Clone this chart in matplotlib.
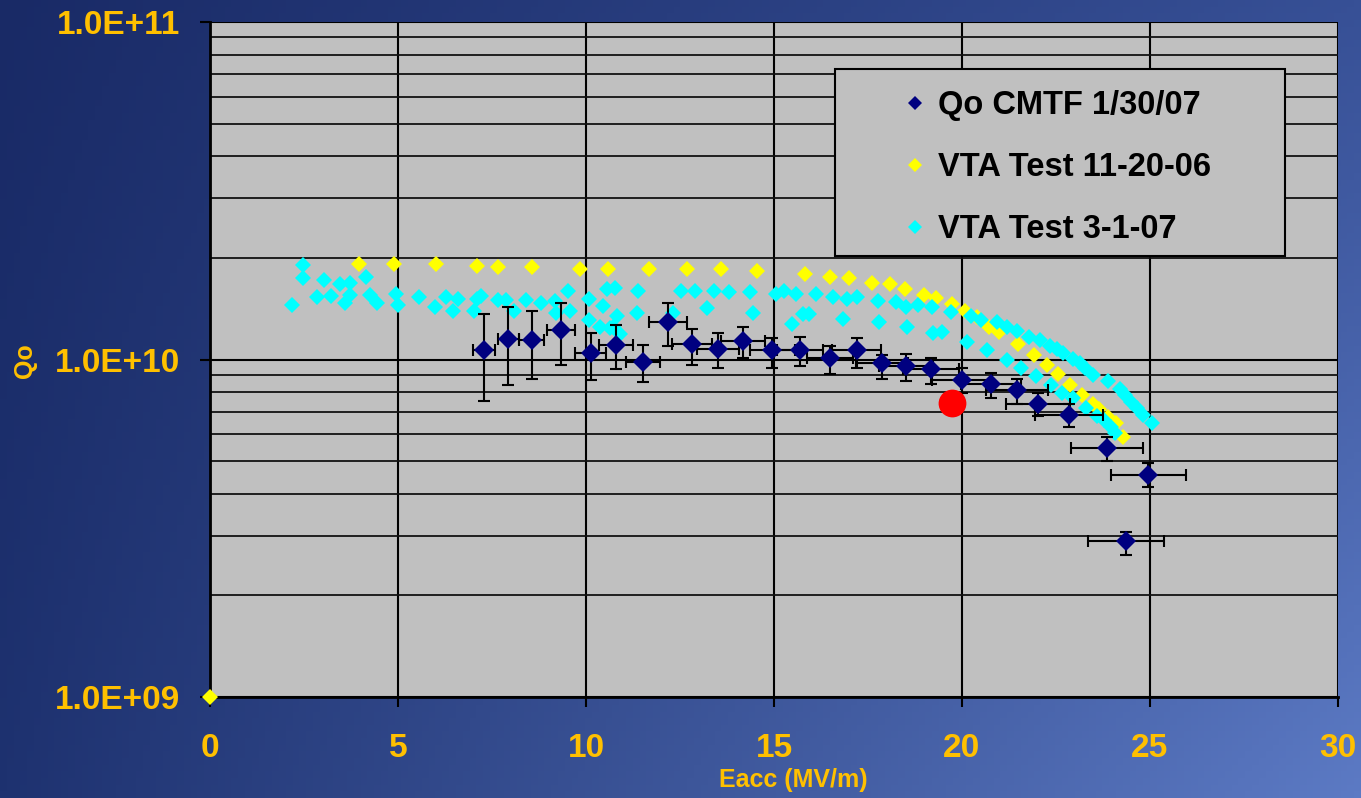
import numpy as np
import matplotlib
matplotlib.use("Agg")
import matplotlib.pyplot as plt
from matplotlib.patches import Rectangle
from matplotlib.ticker import FixedLocator, FuncFormatter, LogLocator, NullFormatter

# Qo CMTF 1/30/07 (with error bars)
cmtf_e = [7.29, 7.93, 8.56, 9.34, 10.13, 10.80, 11.52, 12.18, 12.82, 13.51, 14.18, 14.95, 15.69,
          16.49, 17.20, 17.87, 18.51, 19.18, 20.00, 20.77, 21.46, 22.02, 22.85, 23.86, 24.95, 24.36]
cmtf_q = [1.067e10, 1.150e10, 1.142e10, 1.223e10, 1.045e10, 1.104e10, 9.83e9, 1.292e10, 1.111e10,
          1.074e10, 1.134e10, 1.067e10, 1.067e10, 1.010e10, 1.067e10, 9.76e9, 9.56e9, 9.37e9,
          8.69e9, 8.46e9, 8.12e9, 7.38e9, 6.85e9, 5.47e9, 4.55e9, 2.90e9]
cmtf_q_hi = [1.364e10, 1.431e10, 1.392e10, 1.471e10, 1.198e10, 1.265e10, 1.104e10, 1.471e10, 1.231e10,
             1.198e10, 1.248e10, 1.158e10, 1.166e10, 1.096e10, 1.158e10, 1.031e10, 1.041e10, 1.010e10,
             9.44e9, 9.12e9, 8.75e9, 7.96e9, 7.38e9, 5.89e9, 4.93e9, 3.08e9]
cmtf_q_lo = [7.53e9, 8.41e9, 8.75e9, 9.63e9, 8.69e9, 9.37e9, 8.58e9, 1.096e10, 9.63e9,
             9.44e9, 1.010e10, 9.44e9, 9.56e9, 9.06e9, 9.44e9, 8.75e9, 8.64e9, 8.46e9,
             7.96e9, 7.69e9, 7.38e9, 6.80e9, 6.31e9, 5.00e9, 4.19e9, 2.63e9]
cmtf_e_err = [0.30, 0.28, 0.33, 0.37, 0.41, 0.45, 0.45, 0.50, 0.53, 0.56, 0.58, 0.60, 0.62,
              0.62, 0.65, 0.70, 0.72, 0.75, 0.80, 0.80, 0.83, 0.85, 0.90, 0.96, 1.00, 1.00]

# VTA Test 11-20-06
vta1_e = [0.0, 3.96, 4.89, 6.01, 7.10, 7.66, 8.56, 9.84, 10.59, 11.68, 12.69, 13.59, 14.55, 15.82,
          16.49, 16.99, 17.61, 18.09, 18.48, 18.99, 19.31, 19.73, 20.08, 20.40, 20.72, 20.98,
          21.49, 21.91, 22.26, 22.55, 22.87, 23.19, 23.48, 23.64, 23.88, 24.10, 24.28]
vta1_q = [1.0e9, 1.92e10, 1.92e10, 1.92e10, 1.89e10, 1.88e10, 1.88e10, 1.85e10, 1.85e10, 1.85e10,
          1.85e10, 1.85e10, 1.83e10, 1.79e10, 1.75e10, 1.74e10, 1.69e10, 1.67e10, 1.62e10, 1.55e10,
          1.52e10, 1.46e10, 1.39e10, 1.34e10, 1.25e10, 1.21e10, 1.11e10, 1.03e10, 9.63e9, 9.06e9,
          8.40e9, 7.85e9, 7.38e9, 7.13e9, 6.76e9, 6.49e9, 5.89e9]

# VTA Test 3-1-07
vta2_e = [2.18, 2.47, 2.47, 2.85, 3.03, 3.22, 3.46, 3.59, 3.72, 3.72, 4.15, 4.26, 4.44, 4.95, 5.00,
          5.56, 5.98, 6.28, 6.46, 6.60, 7.02, 7.10, 7.21, 7.66, 7.87, 8.09, 8.40, 8.80, 9.18, 9.20,
          9.52, 9.57, 10.08, 10.08, 10.45, 10.37, 10.56, 10.77, 10.72, 10.82, 10.64, 10.90, 11.38,
          11.36, 12.31, 12.53, 12.90, 13.22, 13.40, 13.80, 14.36, 14.44, 15.05, 15.27, 15.59, 15.48,
          15.77, 15.93, 16.12, 16.57, 16.84, 16.94, 17.21, 17.77, 17.79, 18.24, 18.51, 18.54, 18.83,
          19.20, 19.23, 19.47, 19.71, 20.13, 20.24, 20.51, 20.66, 20.93, 21.20, 21.20, 21.46, 21.57,
          21.78, 21.97, 22.07, 22.34, 22.37, 22.53, 22.66, 22.69, 22.95, 22.95, 23.14, 23.27, 23.30,
          23.48, 23.59, 23.78, 23.88, 23.96, 24.07, 24.20, 24.34, 24.49, 24.65, 24.81, 25.05]
vta2_q = [1.451e10, 1.91e10, 1.74e10, 1.532e10, 1.72e10, 1.542e10, 1.673e10, 1.471e10, 1.685e10,
          1.553e10, 1.756e10, 1.553e10, 1.471e10, 1.564e10, 1.451e10, 1.532e10, 1.431e10, 1.532e10,
          1.392e10, 1.511e10, 1.392e10, 1.511e10, 1.542e10, 1.501e10, 1.501e10, 1.392e10, 1.501e10,
          1.471e10, 1.491e10, 1.373e10, 1.596e10, 1.392e10, 1.511e10, 1.309e10, 1.441e10, 1.248e10,
          1.618e10, 1.629e10, 1.248e10, 1.345e10, 1.240e10, 1.190e10, 1.596e10, 1.373e10, 1.373e10,
          1.596e10, 1.596e10, 1.421e10, 1.596e10, 1.585e10, 1.585e10, 1.373e10, 1.564e10, 1.596e10,
          1.564e10, 1.274e10, 1.364e10, 1.364e10, 1.564e10, 1.532e10, 1.318e10, 1.511e10, 1.532e10,
          1.491e10, 1.292e10, 1.481e10, 1.431e10, 1.248e10, 1.451e10, 1.431e10, 1.198e10, 1.206e10,
          1.383e10, 1.127e10, 1.345e10, 1.309e10, 1.067e10, 1.292e10, 9.97e9, 1.248e10, 1.215e10,
          9.44e9, 1.166e10, 8.94e9, 1.142e10, 1.096e10, 8.41e9, 1.074e10, 7.96e9, 1.045e10, 1.003e10,
          7.69e9, 9.76e9, 9.44e9, 7.18e9, 9.00e9, 6.80e9, 6.62e9, 8.64e9, 6.31e9, 6.06e9, 8.18e9,
          7.85e9, 7.48e9, 7.18e9, 6.85e9, 6.48e9]

# single red marker
red_e = [19.73]
red_q = [7.43e9]

gold = "#FFC000"
plt.rcParams["font.family"] = ["Liberation Sans", "DejaVu Sans"]
plt.rcParams["font.weight"] = "bold"

fig = plt.figure(figsize=(13.61, 7.98), dpi=100)

# gradient background
bg = fig.add_axes([0, 0, 1, 1], zorder=-10)
tl = np.array([25, 42, 102]) / 255
tr = np.array([55, 80, 150]) / 255
bl = np.array([30, 50, 112]) / 255
br = np.array([92, 122, 196]) / 255
xs = np.linspace(0, 1, 200)[None, :, None]
ys = np.linspace(0, 1, 120)[:, None, None]
img = (1 - ys) * ((1 - xs) * tl + xs * tr) + ys * ((1 - xs) * bl + xs * br)
bg.imshow(img, aspect="auto", extent=[0, 1, 0, 1])
bg.axis("off")

ax = fig.add_axes([210 / 1361, 1 - 697 / 798, 1128 / 1361, 675 / 798])
ax.set_facecolor("#C0C0C0")
ax.set_yscale("log")
ax.set_xlim(0, 30)
ax.set_ylim(1e9, 1e11)

ax.xaxis.set_major_locator(FixedLocator([0, 5, 10, 15, 20, 25, 30]))
ax.yaxis.set_major_locator(FixedLocator([1e9, 1e10, 1e11]))
ax.yaxis.set_major_formatter(FuncFormatter(lambda v, p: "1.0E+%02d" % round(np.log10(v))))
ax.yaxis.set_minor_locator(LogLocator(base=10, subs=np.arange(2, 10)))
ax.yaxis.set_minor_formatter(NullFormatter())

ax.grid(True, which="major", color="black", lw=1.5)
ax.grid(True, which="minor", axis="y", color="#111111", lw=1.3)
ax.set_axisbelow(True)

ax.tick_params(axis="both", which="major", direction="out", length=7, width=1.5, color="black",
               labelsize=24, labelcolor=gold)
ax.tick_params(axis="y", which="minor", length=0)
ax.tick_params(axis="x", pad=19)
ax.tick_params(axis="y", pad=14.5)
for t in ax.get_xticklabels() + ax.get_yticklabels():
    t.set_fontweight("bold")

for s in ["top", "right"]:
    ax.spines[s].set_visible(False)
for s in ["left", "bottom"]:
    ax.spines[s].set_color("black")
    ax.spines[s].set_linewidth(2)

# series
ax.plot(vta1_e, vta1_q, linestyle="none", marker="D", ms=8, color="#FFFF00", mew=0,
        label="VTA Test 11-20-06", zorder=3, clip_on=False)
ax.plot(vta2_e, vta2_q, linestyle="none", marker="D", ms=8, color="#00FFFF", mew=0,
        label="VTA Test 3-1-07", zorder=4)
yerr = [np.array(cmtf_q) - np.array(cmtf_q_lo), np.array(cmtf_q_hi) - np.array(cmtf_q)]
ax.errorbar(cmtf_e, cmtf_q, yerr=yerr, xerr=cmtf_e_err, fmt="none", ecolor="black",
            elinewidth=1.5, capsize=4, capthick=1.5, zorder=5)
ax.plot(cmtf_e, cmtf_q, linestyle="none", marker="D", ms=10.5, color="#000080", mew=0,
        label="Qo CMTF 1/30/07", zorder=6)
ax.plot(red_e, red_q, linestyle="none", marker="o", ms=20, color="#FF0000", mew=0, zorder=7)

# legend box (Excel style, wider than its text)
box = Rectangle((0.554, 0.653), 0.399, 0.277, transform=ax.transAxes, facecolor="#C0C0C0",
                edgecolor="black", lw=1.5, zorder=9)
ax.add_patch(box)

h, l = ax.get_legend_handles_labels()
order = [2, 0, 1]
leg = ax.legend([h[i] for i in order], [l[i] for i in order], loc="center left",
                bbox_to_anchor=(0.6135, 0.784), frameon=False,
                prop={"size": 23.5, "weight": "bold"},
                handlelength=0.8, handletextpad=0.3, labelspacing=0.95,
                borderpad=0, borderaxespad=0)
for lh in leg.legend_handles:
    lh.set_markersize(7.5)
leg.set_zorder(10)

fig.text(793 / 1361, 1 - 780 / 798, "Eacc (MV/m)", color=gold, fontsize=18, fontweight="bold",
         ha="center", va="center")
fig.text(25 / 1361, 1 - 361 / 798, "Qo", color=gold, fontsize=18, fontweight="bold",
         ha="center", va="center", rotation=90)

fig.savefig("out.png", dpi=100)
